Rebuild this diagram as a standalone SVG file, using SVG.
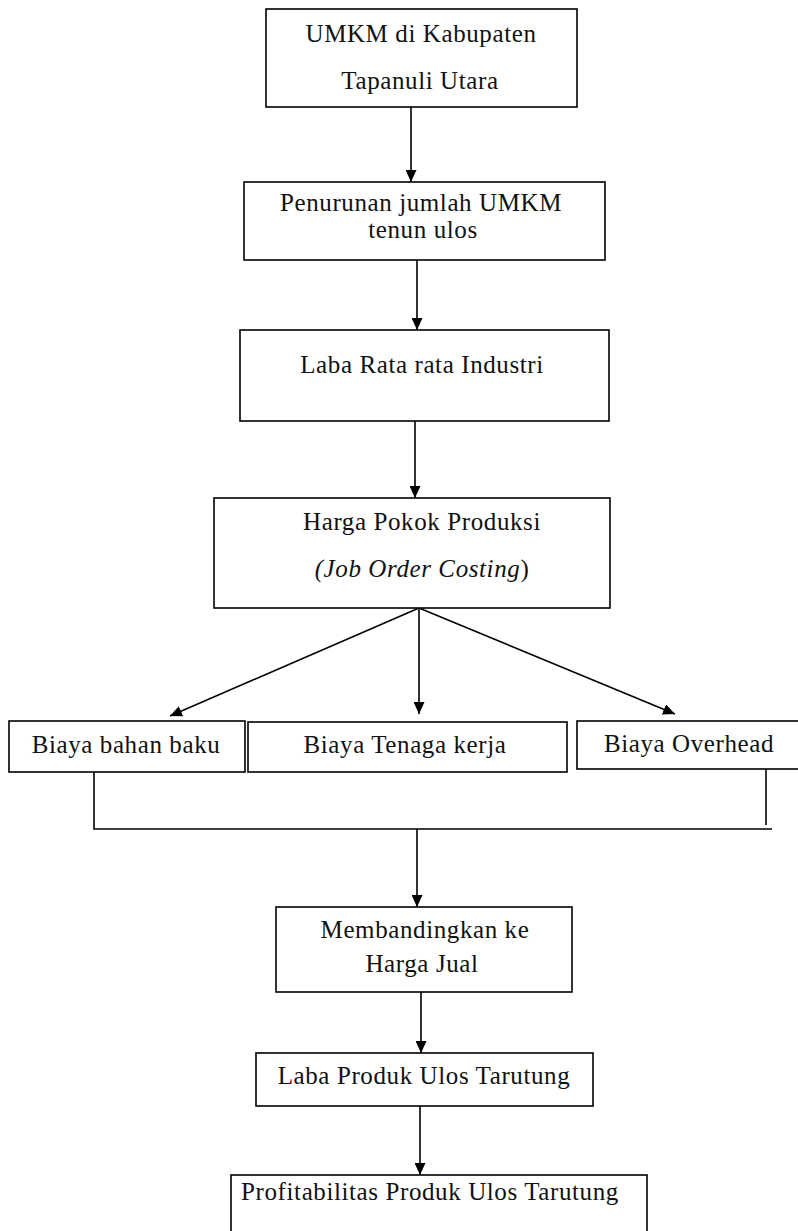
<svg xmlns="http://www.w3.org/2000/svg" width="798" height="1231" viewBox="0 0 798 1231">
<style>
.box{fill:#fff;stroke:#000;stroke-width:1.6}
.t{font-family:"Liberation Serif","Times New Roman",serif;font-size:25px;letter-spacing:0.6px;fill:#111;text-anchor:middle}
.c{stroke:#000;stroke-width:1.6;fill:none}
.a{marker-end:url(#ah)}
</style>
<defs>
<marker id="ah" markerUnits="userSpaceOnUse" markerWidth="12" markerHeight="11" refX="12" refY="5.5" orient="auto">
<path d="M0,0 L12,5.5 L0,11 z" fill="#000"/>
</marker>
</defs>
<rect width="798" height="1231" fill="#fff"/>
<g id="connectors">
<line class="c a" x1="411" y1="107" x2="411" y2="182"/>
<line class="c a" x1="417" y1="260" x2="417" y2="330"/>
<line class="c a" x1="415" y1="421" x2="415" y2="498"/>
<line class="c a" x1="419" y1="608" x2="170" y2="716"/>
<line class="c a" x1="419" y1="608" x2="419" y2="714"/>
<line class="c a" x1="419" y1="608" x2="675" y2="714"/>
<polyline class="c" points="94,772 94,829 772,829"/>
<line class="c" x1="766" y1="763" x2="766" y2="825"/>
<line class="c a" x1="417" y1="829" x2="417" y2="907"/>
<line class="c a" x1="421" y1="992" x2="421" y2="1053"/>
<line class="c a" x1="420" y1="1106" x2="420" y2="1175"/>
</g>
<g id="n1"><rect class="box" x="266" y="9" width="311" height="98"/>
<text class="t" x="421" y="42">UMKM di Kabupaten</text>
<text class="t" x="420" y="89">Tapanuli Utara</text></g>
<g id="n2"><rect class="box" x="244" y="182" width="361" height="78"/>
<text class="t" x="421" y="211">Penurunan jumlah UMKM</text>
<text class="t" x="423" y="238">tenun ulos</text></g>
<g id="n3"><rect class="box" x="240" y="330" width="369" height="91"/>
<text class="t" x="422" y="373">Laba Rata rata Industri</text></g>
<g id="n4"><rect class="box" x="214" y="498" width="396" height="110"/>
<text class="t" x="422" y="530">Harga Pokok Produksi</text>
<text class="t" x="422" y="577"><tspan font-style="italic">(Job Order Costing</tspan>)</text></g>
<g id="n5"><rect class="box" x="9" y="721" width="236" height="51"/>
<text class="t" x="126" y="753">Biaya bahan baku</text></g>
<g id="n6"><rect class="box" x="248" y="722" width="319" height="50"/>
<text class="t" x="405" y="753">Biaya Tenaga kerja</text></g>
<g id="n7"><rect class="box" x="577" y="721" width="230" height="48"/>
<text class="t" x="689" y="752">Biaya Overhead</text></g>
<g id="n8"><rect class="box" x="276" y="907" width="296" height="85"/>
<text class="t" x="425" y="938">Membandingkan ke</text>
<text class="t" x="422" y="972">Harga Jual</text></g>
<g id="n9"><rect class="box" x="256" y="1053" width="337" height="53"/>
<text class="t" x="424" y="1084">Laba Produk Ulos Tarutung</text></g>
<g id="n10"><rect class="box" x="231" y="1175" width="416" height="70"/>
<text class="t" x="430" y="1200">Profitabilitas Produk Ulos Tarutung</text></g>
</svg>
